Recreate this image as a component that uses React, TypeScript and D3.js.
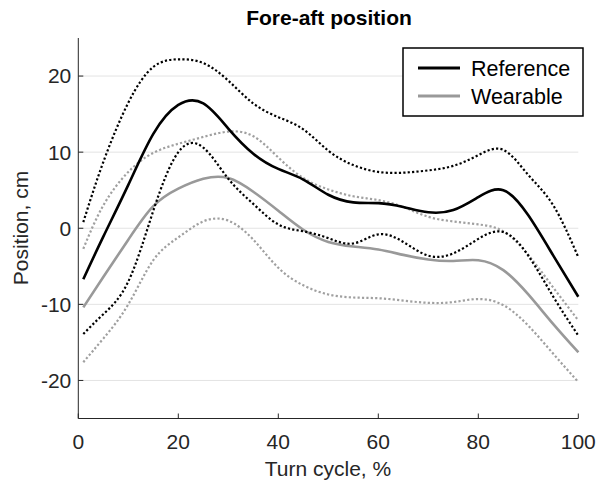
import React from "react";
import * as d3 from "d3";

const xs = [1, 5, 10, 15, 20, 25, 30, 35, 40, 45, 50, 55, 60, 65, 70, 75, 80, 85, 90, 95, 100];
const refMean = [-6.7, -1.1, 5.7, 12.4, 16.2, 16.4, 13.1, 9.8, 7.8, 6.4, 4.4, 3.4, 3.3, 2.8, 2.1, 2.4, 4.1, 5.0, 1.7, -3.6, -9.0];
const refUpper = [0.8, 8.7, 16.5, 21.2, 22.2, 21.7, 19.4, 16.4, 14.6, 13.0, 10.2, 8.3, 7.4, 7.3, 7.6, 8.2, 9.6, 10.3, 7.0, 3.0, -3.8];
const refLower = [-13.9, -11.3, -7.0, 2.3, 10.0, 10.6, 6.5, 3.2, 0.5, -0.4, -1.3, -2.0, -0.8, -1.8, -3.6, -3.3, -1.4, -0.5, -3.6, -9.0, -14.1];
const wearMean = [-10.4, -6.4, -1.5, 2.9, 5.2, 6.5, 6.6, 4.8, 2.3, -0.2, -1.8, -2.4, -2.8, -3.5, -4.1, -4.3, -4.2, -5.5, -8.7, -12.6, -16.3];
const wearUpper = [-2.7, 3.0, 7.4, 9.9, 11.1, 12.0, 12.7, 12.1, 9.3, 6.6, 5.1, 4.2, 3.7, 2.8, 1.5, 0.9, 0.5, -0.4, -3.5, -7.8, -12.1];
const wearLower = [-17.6, -14.5, -10.0, -4.2, -1.2, 0.9, 1.0, -1.5, -5.2, -7.5, -8.7, -9.1, -9.2, -9.5, -9.8, -9.7, -9.3, -10.1, -12.8, -16.5, -20.2];

const xTicks = [0, 20, 40, 60, 80, 100];
const yTicks = [-20, -10, 0, 10, 20];
const legendLabels = ["Reference", "Wearable"];

const W = 605;
const H = 484;
const FONT = "'Liberation Sans', Arial, Helvetica, sans-serif";
const AX = "#262626";

export default function App() {
  const x = d3.scaleLinear().domain([0, 100]).range([78.3, 578.3]);
  const y = d3.scaleLinear().domain([-25, 25]).range([418.5, 38]);
  const line = d3
    .line<number>()
    .x((_, i) => x(xs[i]))
    .y((d) => y(d))
    .curve(d3.curveNatural);

  const series = [
    { d: wearLower, color: "#a0a0a0", dotted: true },
    { d: wearUpper, color: "#a0a0a0", dotted: true },
    { d: wearMean, color: "#999999", dotted: false },
    { d: refLower, color: "#000000", dotted: true },
    { d: refUpper, color: "#000000", dotted: true },
    { d: refMean, color: "#000000", dotted: false },
  ];

  return (
    <svg width={W} height={H} style={{ position: "absolute", left: 0, top: 0, background: "#fff" }} fontFamily={FONT}>
      <rect x={0} y={0} width={W} height={H} fill="#fff" />
      {yTicks.map((t) => (
        <line key={"g" + t} x1={x(0)} x2={x(100)} y1={y(t)} y2={y(t)} stroke="#e3e3e3" strokeWidth={1} />
      ))}
      {series.map((s, i) => (
        <path
          key={i}
          d={line(s.d) || ""}
          fill="none"
          stroke={s.color}
          strokeWidth={s.dotted ? 2.2 : 2.6}
          strokeDasharray={s.dotted ? "2.2 2.2" : undefined}
        />
      ))}
      <line x1={x(0)} x2={x(0)} y1={y(25)} y2={y(-25)} stroke={AX} strokeWidth={1} />
      <line x1={x(0)} x2={x(100)} y1={y(-25)} y2={y(-25)} stroke={AX} strokeWidth={1} />
      {yTicks.map((t) => (
        <g key={"y" + t}>
          <line x1={x(0)} x2={x(0) + 5} y1={y(t)} y2={y(t)} stroke={AX} strokeWidth={1} />
          <text x={x(0) - 7} y={y(t)} dy="0.35em" textAnchor="end" fontSize={21} fill={AX}>
            {t}
          </text>
        </g>
      ))}
      {xTicks.map((t) => (
        <g key={"x" + t}>
          <line x1={x(t)} x2={x(t)} y1={y(-25)} y2={y(-25) - 5} stroke={AX} strokeWidth={1} />
          <text x={x(t)} y={449} textAnchor="middle" fontSize={21} fill={AX}>
            {t}
          </text>
        </g>
      ))}
      <text x={328} y={476} textAnchor="middle" fontSize={21} fill={AX}>
        Turn cycle, %
      </text>
      <text transform={`translate(28,228) rotate(-90)`} textAnchor="middle" fontSize={21} fill={AX}>
        Position, cm
      </text>
      <text x={329} y={25} textAnchor="middle" fontSize={21} fontWeight="bold" fill="#000">
        Fore-aft position
      </text>
      <rect x={403} y={48} width={180} height={68} fill="#fff" stroke="#000" strokeWidth={1.5} />
      {legendLabels.map((l, i) => (
        <g key={l}>
          <line x1={418} x2={460} y1={68 + i * 28} y2={68 + i * 28} stroke={i === 0 ? "#000" : "#999"} strokeWidth={2.8} />
          <text x={471} y={68 + i * 28} dy="0.35em" fontSize={21.5} fill="#000">
            {l}
          </text>
        </g>
      ))}
    </svg>
  );
}
